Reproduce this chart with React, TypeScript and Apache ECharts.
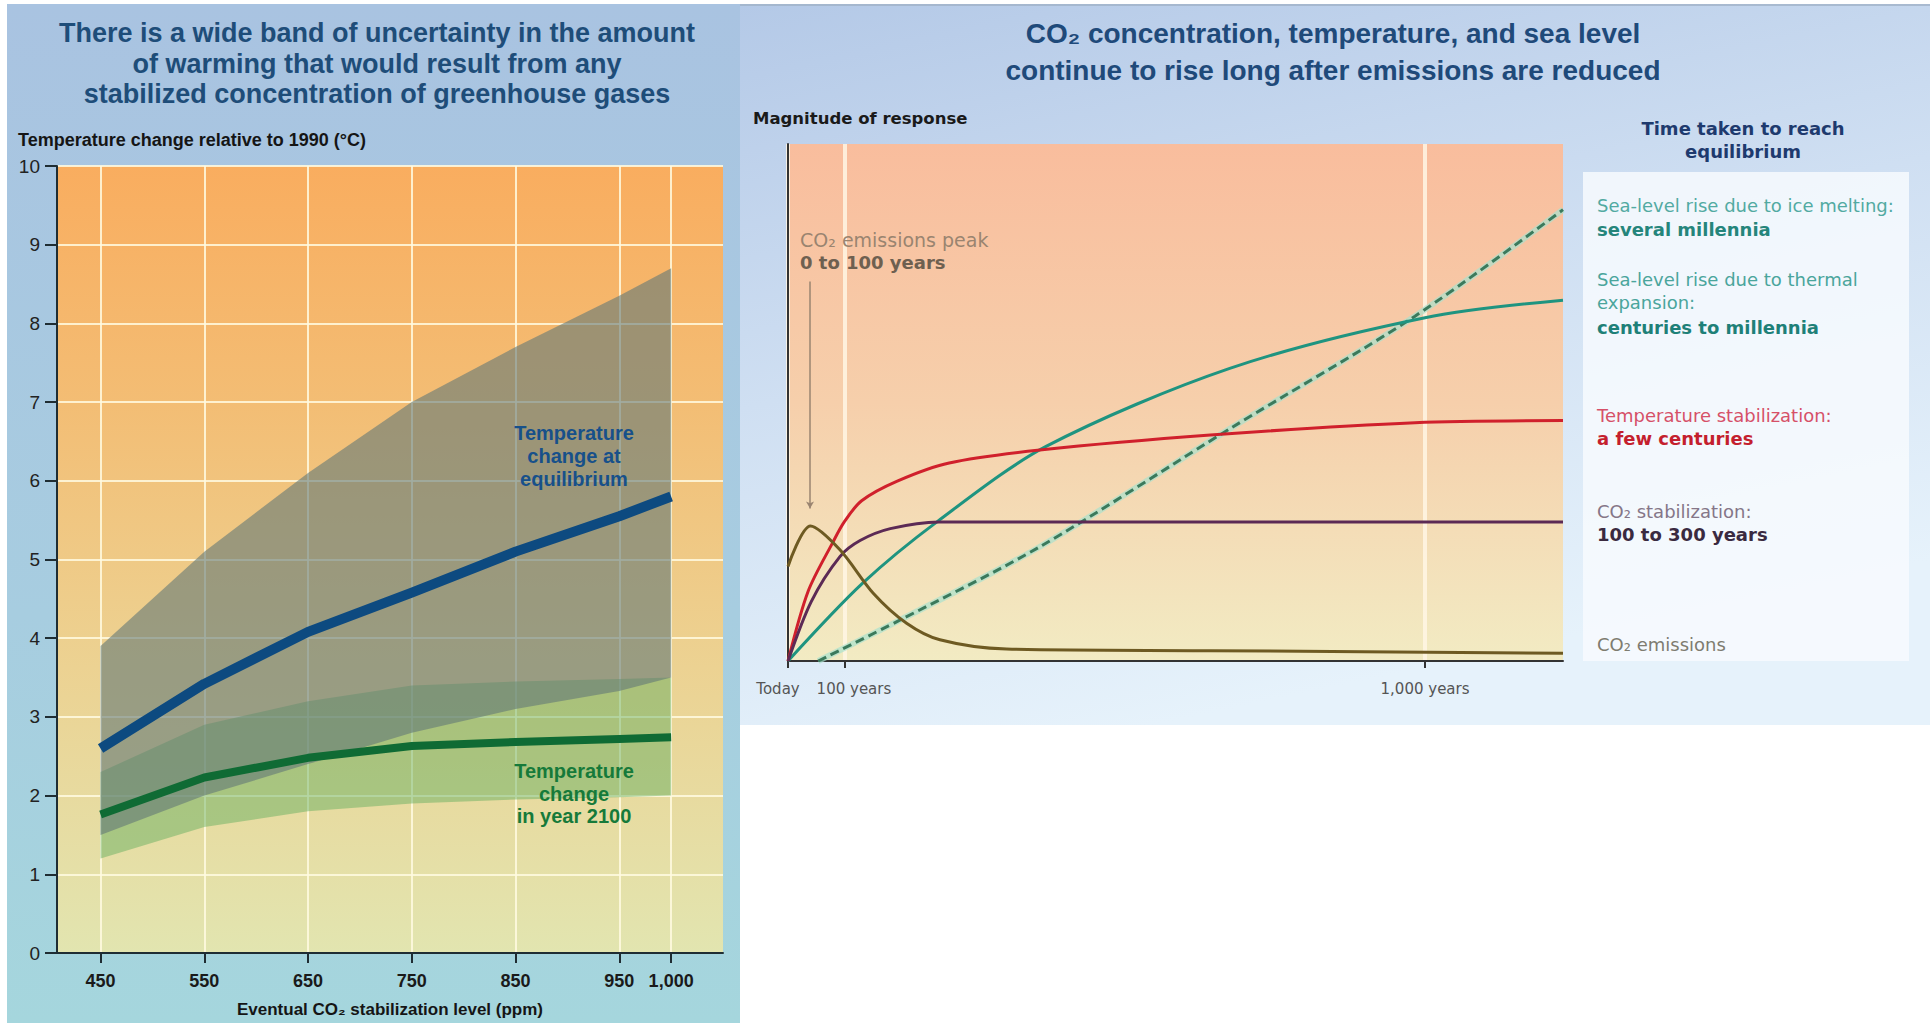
import React, { useEffect, useRef } from 'react';
import * as echarts from 'echarts';

// ---------- Left chart: warming vs CO2 stabilization level ----------
const ppmLevels = [450, 550, 650, 750, 850, 950, 1000];
const ppmTickLabels = ['450', '550', '650', '750', '850', '950', '1,000'];
const equilibriumUpper = [3.9, 5.1, 6.1, 7.0, 7.7, 8.35, 8.7];
const equilibriumLower = [1.5, 2.0, 2.4, 2.8, 3.1, 3.33, 3.5];
const equilibriumCentral = [2.6, 3.42, 4.08, 4.58, 5.1, 5.55, 5.8];
const year2100Upper = [2.3, 2.9, 3.2, 3.4, 3.45, 3.48, 3.5];
const year2100Lower = [1.2, 1.6, 1.8, 1.9, 1.95, 1.98, 2.0];
const year2100Central = [1.76, 2.23, 2.48, 2.63, 2.68, 2.72, 2.74];

// ---------- Right chart: schematic response (x and y in schematic units 0-100) ----------
const timeTickPositions = [0, 7.35, 82.2];
const timeTickLabels = ['Today', '100 years', '1,000 years'];
const iceMeltX = [3.9, 14.3, 32.5, 57.2, 80.9, 100];
const iceMeltY = [0, 7.8, 22.1, 45.1, 66.7, 87.3];
const thermalX = [0, 9.6, 19.3, 33.3, 57.0, 82.2, 100];
const thermalY = [0, 15.0, 27.0, 41.5, 56.6, 66.4, 69.8];
const temperatureX = [0, 2.6, 5.8, 7.3, 9.5, 14.1, 20.8, 32.5, 54.5, 80.9, 100];
const temperatureY = [0, 13.5, 23.0, 27.0, 31.0, 34.8, 38.3, 40.8, 43.7, 46.1, 46.5];
const co2StabX = [0, 3.0, 6.7, 9.3, 13.2, 19.5, 100];
const co2StabY = [0, 11.5, 20.2, 23.3, 25.6, 26.9, 26.9];
const emissionsX = [0, 2.9, 6.7, 11.0, 15.3, 19.6, 28.2, 54.5, 100];
const emissionsY = [18.3, 26.1, 21.5, 13.1, 7.3, 4.1, 2.3, 2.0, 1.5];
const emissionsPeakArrow = [[2.84, 73.4], [2.84, 29.5]];

const pairs = (xs: number[], ys: number[]) => xs.map((x, i) => [x, ys[i]]);

const SANS = "'Liberation Sans', Arial, sans-serif";
const WIDE = "'DejaVu Sans', Verdana, sans-serif";

function txt(x: number, y: number, text: string, o: any = {}) {
  const align = o.align || 'left';
  return {
    type: 'text',
    x,
    y,
    z: 100,
    silent: true,
    style: {
      text,
      fill: o.color || '#222',
      fontSize: o.size || 16,
      fontWeight: o.bold ? 'bold' : 'normal',
      fontFamily: o.family || SANS,
      align,
      textAlign: align,
      verticalAlign: 'middle',
      textVerticalAlign: 'middle',
    },
  };
}

function bandSeries(lo: number[], hi: number[], fill: string, z: number) {
  return {
    type: 'custom',
    xAxisIndex: 0,
    yAxisIndex: 0,
    z,
    silent: true,
    clip: true,
    data: [[ppmLevels[0], lo[0]]],
    renderItem: (params: any, api: any) => {
      const pts: number[][] = [];
      for (let i = 0; i < ppmLevels.length; i++) pts.push(api.coord([ppmLevels[i], hi[i]]));
      for (let i = ppmLevels.length - 1; i >= 0; i--) pts.push(api.coord([ppmLevels[i], lo[i]]));
      return { type: 'polygon', shape: { points: pts }, style: { fill } };
    },
  };
}

export default function App() {
  const ref = useRef<HTMLDivElement>(null);
  useEffect(() => {
    if (!ref.current) return;
    const chart = echarts.init(ref.current, null, { renderer: 'svg' });
    const axisDark = '#1f2d33';
    const rightLine = (name: string, xs: number[], ys: number[], color: string, extra: any = {}) => ({
      name,
      type: 'line',
      xAxisIndex: 1,
      yAxisIndex: 1,
      data: pairs(xs, ys),
      showSymbol: false,
      smooth: 0.3,
      silent: true,
      z: 5,
      lineStyle: { color, width: 3, ...(extra.lineStyle || {}) },
      ...(extra.rest || {}),
    });

    const option: any = {
      animation: false,
      backgroundColor: '#ffffff',
      grid: [
        { left: 57, top: 166, width: 666, height: 787, show: false },
        { left: 788, top: 144, width: 775, height: 517, show: false },
      ],
      xAxis: [
        {
          gridIndex: 0,
          type: 'value',
          min: 408,
          max: 1050,
          axisLine: { show: true, onZero: false, lineStyle: { color: axisDark, width: 2 } },
          axisTick: { show: true, customValues: ppmLevels, length: 10, lineStyle: { color: axisDark, width: 2 } },
          axisLabel: {
            customValues: ppmLevels,
            formatter: (v: number) => ppmTickLabels[ppmLevels.indexOf(v)] ?? '',
            margin: 19,
            fontSize: 18,
            fontWeight: 'bold',
            color: '#1a1a1a',
            fontFamily: SANS,
            hideOverlap: false,
          },
          splitLine: { show: true, lineStyle: { color: 'rgba(255,250,225,0.85)', width: 2 } },
        },
        {
          gridIndex: 1,
          type: 'value',
          min: 0,
          max: 100,
          axisLine: { show: true, onZero: false, lineStyle: { color: '#333', width: 2 } },
          axisTick: { show: true, customValues: timeTickPositions, length: 7, lineStyle: { color: '#333', width: 2 } },
          axisLabel: {
            customValues: timeTickPositions,
            hideOverlap: false,
            showMinLabel: true,
            formatter: (v: number) => {
              const i = timeTickPositions.indexOf(v);
              if (i === 0) return '{t|' + timeTickLabels[0] + '}';
              if (i === 1) return '{h|' + timeTickLabels[1] + '}';
              return timeTickLabels[i] ?? '';
            },
            rich: {
              t: { fontSize: 15, color: '#555', fontFamily: WIDE, padding: [0, 20, 0, 0] },
              h: { fontSize: 15, color: '#555', fontFamily: WIDE, padding: [0, 0, 0, 18] },
            },
            margin: 20,
            fontSize: 15,
            color: '#555',
            fontFamily: WIDE,
          },
          splitLine: { show: true, lineStyle: { color: 'rgba(255,246,228,0.85)', width: 4 } },
        },
      ],
      yAxis: [
        {
          gridIndex: 0,
          type: 'value',
          min: 0,
          max: 10,
          interval: 1,
          axisLine: { show: true, lineStyle: { color: axisDark, width: 2 } },
          axisTick: { show: true, length: 12, lineStyle: { color: axisDark, width: 2 } },
          axisLabel: { margin: 17, fontSize: 19, color: '#222', fontFamily: SANS },
          splitLine: { show: true, lineStyle: { color: 'rgba(255,250,225,0.85)', width: 2 } },
        },
        {
          gridIndex: 1,
          type: 'value',
          min: 0,
          max: 100,
          axisLine: { show: true, lineStyle: { color: '#333', width: 2 } },
          axisTick: { show: false },
          axisLabel: { show: false },
          splitLine: { show: false },
        },
      ],
      series: [
        bandSeries(year2100Lower, year2100Upper, 'rgba(90,170,90,0.45)', 1),
        bandSeries(equilibriumLower, equilibriumUpper, 'rgba(98,120,118,0.6)', 2),
        {
          name: 'Temperature change at equilibrium',
          type: 'line',
          xAxisIndex: 0,
          yAxisIndex: 0,
          data: pairs(ppmLevels, equilibriumCentral),
          showSymbol: false,
          silent: true,
          z: 4,
          lineStyle: { color: '#0d4a80', width: 10, join: 'round' },
        },
        {
          name: 'Temperature change in year 2100',
          type: 'line',
          xAxisIndex: 0,
          yAxisIndex: 0,
          data: pairs(ppmLevels, year2100Central),
          showSymbol: false,
          silent: true,
          z: 4,
          lineStyle: { color: '#0f6b34', width: 8, join: 'round' },
        },
        rightLine('Sea-level rise due to ice melting', iceMeltX, iceMeltY, 'rgba(170,225,205,0.7)', { lineStyle: { width: 6 } }),
        rightLine('Sea-level rise due to ice melting', iceMeltX, iceMeltY, '#3b7a5c', { lineStyle: { width: 3, type: [9, 5] } }),
        rightLine('Sea-level rise due to thermal expansion', thermalX, thermalY, '#1f9480'),
        rightLine('Temperature stabilization', temperatureX, temperatureY, '#d0202c'),
        rightLine('CO2 stabilization', co2StabX, co2StabY, '#5c2a55'),
        rightLine('CO2 emissions', emissionsX, emissionsY, '#6e5a22', {
          rest: {
            markLine: {
              silent: true,
              symbol: ['none', 'arrow'],
              symbolSize: [6, 7],
              label: { show: false },
              lineStyle: { color: '#9a8470', width: 1.5, type: 'solid' },
              data: [[{ coord: emissionsPeakArrow[0] }, { coord: emissionsPeakArrow[1] }]],
            },
          },
        }),
      ],
      graphic: [
        {
          type: 'rect', z: -10, silent: true,
          shape: { x: 7, y: 4, width: 733, height: 1019 },
          style: { fill: new echarts.graphic.LinearGradient(0, 0, 0, 1, [
            { offset: 0, color: '#a9c3e1' }, { offset: 0.6, color: '#a7cde0' }, { offset: 1, color: '#a5d6dd' },
          ]) },
        },
        {
          type: 'rect', z: -10, silent: true,
          shape: { x: 740, y: 4, width: 1190, height: 721 },
          style: { fill: new echarts.graphic.LinearGradient(0, 0, 0.35, 1, [
            { offset: 0, color: '#b4c9e7' }, { offset: 0.5, color: '#cfdff2' }, { offset: 1, color: '#e6f2fb' },
          ]) },
        },
        { type: 'line', z: -9, silent: true, shape: { x1: 740, y1: 5, x2: 1930, y2: 5 }, style: { stroke: '#9fb0c6', lineWidth: 1.5 } },
        {
          type: 'rect', z: -5, silent: true,
          shape: { x: 57, y: 166, width: 666, height: 787 },
          style: { fill: new echarts.graphic.LinearGradient(0, 0, 0, 1, [
            { offset: 0, color: '#f9ad5f' }, { offset: 0.3, color: '#f3bd74' }, { offset: 0.6, color: '#edd08f' }, { offset: 1, color: '#e2e5b0' },
          ]) },
        },
        {
          type: 'rect', z: -5, silent: true,
          shape: { x: 788, y: 144, width: 775, height: 517 },
          style: { fill: new echarts.graphic.LinearGradient(0, 0, 0, 1, [
            { offset: 0, color: '#f9bd9d' }, { offset: 0.5, color: '#f6cfab' }, { offset: 1, color: '#f2ebc3' },
          ]) },
        },
        {
          type: 'rect', z: -4, silent: true,
          shape: { x: 1583, y: 172, width: 326, height: 489 },
          style: { fill: 'rgba(247,250,254,0.85)' },
        },
        txt(377, 33, 'There is a wide band of uncertainty in the amount', { align: 'center', size: 27, bold: true, color: '#1e4d79' }),
        txt(377, 64, 'of warming that would result from any', { align: 'center', size: 27, bold: true, color: '#1e4d79' }),
        txt(377, 94, 'stabilized concentration of greenhouse gases', { align: 'center', size: 27, bold: true, color: '#1e4d79' }),
        txt(18, 140, 'Temperature change relative to 1990 (°C)', { size: 18, bold: true, color: '#151515' }),
        txt(390, 1009, 'Eventual CO₂ stabilization level (ppm)', { align: 'center', size: 17, bold: true, color: '#151515' }),
        txt(574, 433, 'Temperature', { align: 'center', size: 20, bold: true, color: '#17508a' }),
        txt(574, 456, 'change at', { align: 'center', size: 20, bold: true, color: '#17508a' }),
        txt(574, 479, 'equilibrium', { align: 'center', size: 20, bold: true, color: '#17508a' }),
        txt(574, 771, 'Temperature', { align: 'center', size: 20, bold: true, color: '#167a3a' }),
        txt(574, 794, 'change', { align: 'center', size: 20, bold: true, color: '#167a3a' }),
        txt(574, 816, 'in year 2100', { align: 'center', size: 20, bold: true, color: '#167a3a' }),
        txt(1333, 33, 'CO₂ concentration, temperature, and sea level', { align: 'center', size: 28, bold: true, color: '#1f4a7a' }),
        txt(1333, 70, 'continue to rise long after emissions are reduced', { align: 'center', size: 28, bold: true, color: '#1f4a7a' }),
        txt(753, 118, 'Magnitude of response', { size: 16.5, bold: true, color: '#1a1a1a', family: WIDE }),
        txt(1743, 128, 'Time taken to reach', { align: 'center', size: 18, bold: true, color: '#1e3a6e', family: WIDE }),
        txt(1743, 151, 'equilibrium', { align: 'center', size: 18, bold: true, color: '#1e3a6e', family: WIDE }),
        txt(800, 240, 'CO₂ emissions peak', { size: 19, color: '#9a8470', family: WIDE }),
        txt(800, 262, '0 to 100 years', { size: 18, bold: true, color: '#6e6050', family: WIDE }),
        txt(1597, 205, 'Sea-level rise due to ice melting:', { size: 18, color: '#52aaa2', family: WIDE }),
        txt(1597, 229, 'several millennia', { size: 18, bold: true, color: '#25857b', family: WIDE }),
        txt(1597, 279, 'Sea-level rise due to thermal', { size: 18, color: '#4aa59c', family: WIDE }),
        txt(1597, 302, 'expansion:', { size: 18, color: '#4aa59c', family: WIDE }),
        txt(1597, 327, 'centuries to millennia', { size: 18, bold: true, color: '#1e8078', family: WIDE }),
        txt(1597, 415, 'Temperature stabilization:', { size: 18, color: '#d65068', family: WIDE }),
        txt(1597, 438, 'a few centuries', { size: 18, bold: true, color: '#c41f2e', family: WIDE }),
        txt(1597, 511, 'CO₂ stabilization:', { size: 18, color: '#857688', family: WIDE }),
        txt(1597, 534, '100 to 300 years', { size: 18, bold: true, color: '#3a2a40', family: WIDE }),
        txt(1597, 644, 'CO₂ emissions', { size: 18, color: '#7e7c70', family: WIDE }),
      ],
    };
    chart.setOption(option);
    return () => chart.dispose();
  }, []);
  return (
    <div
      ref={ref}
      style={{ position: 'fixed', left: 0, top: 0, width: 1930, height: 1023, background: '#fff' }}
    />
  );
}
